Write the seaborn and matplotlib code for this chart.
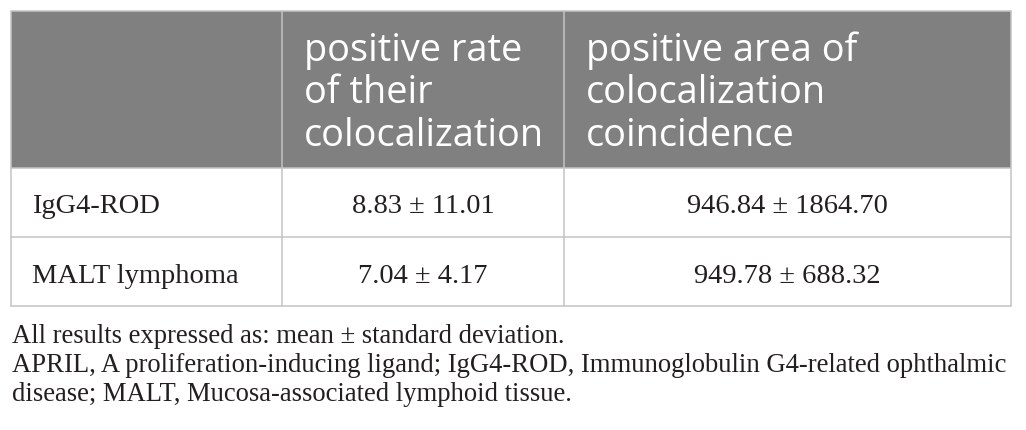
import matplotlib
matplotlib.use("Agg")

import matplotlib.pyplot as plt
import seaborn as sns
from matplotlib.patches import Rectangle

# table content
row_labels = ["IgG4-ROD", "MALT lymphoma"]
col_headers = [
    ["positive rate", "of their", "colocalization"],
    ["positive area of", "colocalization", "coincidence"],
]
rate_mean = [8.83, 7.04]
rate_sd = [11.01, 4.17]
area_mean = [946.84, 949.78]
area_sd = [1864.70, 688.32]
footnotes = [
    "All results expressed as: mean \u00b1 standard deviation.",
    "APRIL, A proliferation-inducing ligand; IgG4-ROD, Immunoglobulin G4-related ophthalmic",
    "disease; MALT, Mucosa-associated lymphoid tissue.",
]

# layout in pixels
col_edges = [11, 282, 564, 1011]
row_edges = [11, 168, 237, 306]
header_baselines = [61, 103, 146]
body_baselines = [213, 283]
note_baselines = [343, 372, 401]

HEADER_BG = "#808080"
GRID = "#c3c3c3"
TEXT = "#231f20"

sns.set_theme(style="white")
plt.rcParams["font.family"] = ["Liberation Serif", "DejaVu Serif"]

fig = plt.figure(figsize=(10.26, 4.30), dpi=100)
ax = fig.add_axes([0, 0, 1, 1])
ax.set_xlim(0, 1026)
ax.set_ylim(430, 0)
ax.axis("off")

# header band
ax.add_patch(Rectangle((col_edges[0], row_edges[0]),
                       col_edges[-1] - col_edges[0], row_edges[1] - row_edges[0],
                       facecolor=HEADER_BG, edgecolor="none"))

# grid lines
for y in row_edges:
    ax.plot([col_edges[0], col_edges[-1]], [y, y], color=GRID, lw=1.1)
for x in col_edges:
    ax.plot([x, x], [row_edges[0], row_edges[-1]], color=GRID, lw=1.1)

# header text
for j, lines in enumerate(col_headers):
    x0 = col_edges[j + 1] + 22
    for line, yb in zip(lines, header_baselines):
        ax.text(x0, yb, line, color="white", fontsize=27.3,
                family="Open Sans", ha="left", va="baseline")

# body rows
for i, label in enumerate(row_labels):
    yb = body_baselines[i]
    ax.text(col_edges[0] + 21, yb, label, color=TEXT, fontsize=20.5,
            ha="left", va="baseline")
    ax.text((col_edges[1] + col_edges[2]) / 2, yb,
            f"{rate_mean[i]:.2f} \u00b1 {rate_sd[i]:.2f}",
            color=TEXT, fontsize=20.5, ha="center", va="baseline")
    ax.text((col_edges[2] + col_edges[3]) / 2, yb,
            f"{area_mean[i]:.2f} \u00b1 {area_sd[i]:.2f}",
            color=TEXT, fontsize=20.5, ha="center", va="baseline")

# footnotes
for line, yb in zip(footnotes, note_baselines):
    ax.text(12, yb, line, color=TEXT, fontsize=19.2, ha="left", va="baseline")

fig.savefig("out.png", dpi=100, facecolor="white")
plt.close(fig)
